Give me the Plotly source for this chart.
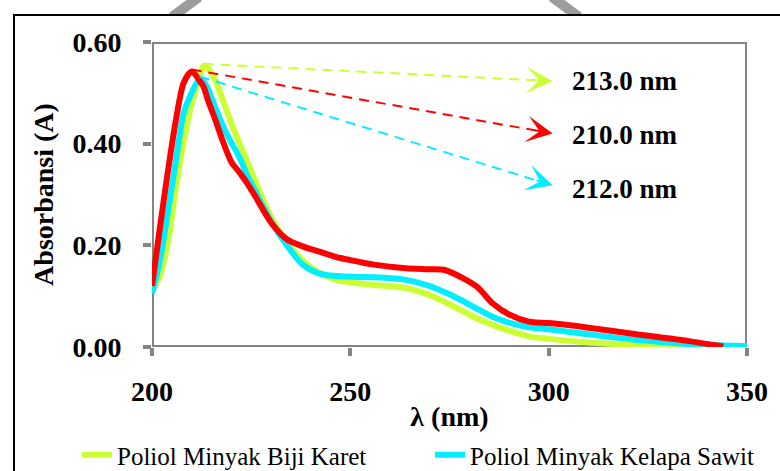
import plotly.graph_objects as go

# Wavelength grid (nm) shared by the three spectra
wavelength = [200, 202, 204, 206, 208, 210, 212, 213, 214, 216, 218, 220, 222, 224,
              226, 230, 234, 238, 242, 246, 250, 256, 264, 270, 274, 278, 282, 286,
              290, 295, 300, 310, 322, 335, 344, 350]

# Absorbance (A) of each polyol sample
biji_karet = [0.110, 0.140, 0.205, 0.312, 0.405, 0.478, 0.530, 0.553, 0.549, 0.524,
              0.483, 0.440, 0.402, 0.365, 0.327, 0.256, 0.207, 0.170, 0.147, 0.133,
              0.127, 0.122, 0.116, 0.102, 0.088, 0.072, 0.056, 0.043, 0.032, 0.021,
              0.016, 0.009, 0.004, 0.001, 0.000, 0.000]
kelapa_sawit = [0.105, 0.170, 0.265, 0.365, 0.460, 0.500, 0.528, 0.522, 0.510, 0.470,
                0.433, 0.402, 0.374, 0.338, 0.307, 0.248, 0.200, 0.162, 0.145, 0.140,
                0.138, 0.137, 0.132, 0.120, 0.107, 0.092, 0.075, 0.059, 0.048, 0.039,
                0.035, 0.025, 0.014, 0.006, 0.003, 0.002]
poliol_merah = [0.120, 0.235, 0.345, 0.445, 0.520, 0.542, 0.524, 0.512, 0.488, 0.446,
                0.402, 0.364, 0.344, 0.322, 0.297, 0.245, 0.212, 0.198, 0.188, 0.178,
                0.171, 0.162, 0.155, 0.153, 0.151, 0.137, 0.118, 0.085, 0.064, 0.050,
                0.047, 0.038, 0.025, 0.012, 0.001, None]

series_names = ["Poliol Minyak Biji Karet", "Poliol Minyak Kelapa Sawit", "Poliol 3"]
series_values = [biji_karet, kelapa_sawit, poliol_merah]
series_colors = ["#CCFF33", "#00EEFF", "#FF0000"]
series_in_legend = [True, True, False]

x_ticks = [200, 250, 300, 350]
y_ticks = [0.0, 0.2, 0.4, 0.6]

# Peak-marker arrows: tip height per series and label position (data units)
arrow_tip_x = 301.0
arrow_tip_y = [0.523, 0.318, 0.420]
label_x = 305.5
label_y = [0.523, 0.310, 0.418]

FONT = "Liberation Serif"
AXIS_GRAY = "#848484"

# Canvas geometry (pixels)
W, H = 780, 471
ML, MR, MT, MB = 152, 33, 42, 124
PW, PH = W - ML - MR, H - MT - MB


def px_to_paper_x(px):
    return (px - ML) / PW


def px_to_paper_y(py):
    return (H - MB - py) / PH


fig = go.Figure()

for name, vals, color, show in zip(series_names, series_values, series_colors, series_in_legend):
    fig.add_trace(go.Scatter(
        x=wavelength, y=vals, name=name, mode="lines",
        line=dict(color=color, width=6, shape="spline", smoothing=0.8),
        showlegend=show, connectgaps=False,
    ))

shapes = []
# two grey strokes of a round emblem showing above the page edge
for (xa, ya), (xb, yb) in [((199, -3), (172, 17)), ((552, -3), (579, 17))]:
    shapes.append(dict(type="line", xref="paper", yref="paper", layer="below",
                       x0=px_to_paper_x(xa), y0=px_to_paper_y(ya),
                       x1=px_to_paper_x(xb), y1=px_to_paper_y(yb),
                       line=dict(color="#9c9c9c", width=10)))
# black page frame (white inside)
shapes.append(dict(type="rect", xref="paper", yref="paper", layer="below",
                   x0=px_to_paper_x(14), x1=px_to_paper_x(800),
                   y0=px_to_paper_y(490), y1=px_to_paper_y(15),
                   fillcolor="white", line=dict(color="black", width=2)))
# gray plot frame on the axis limits
shapes.append(dict(type="rect", xref="x", yref="y", layer="below",
                   x0=x_ticks[0], x1=x_ticks[-1], y0=y_ticks[0], y1=y_ticks[-1],
                   line=dict(color=AXIS_GRAY, width=4)))

annotations = []
for vals, color, tip_y, lab_y in zip(series_values, series_colors, arrow_tip_y, label_y):
    clean = [(w, v) for w, v in zip(wavelength, vals) if v is not None]
    peak_w, peak_v = max(clean, key=lambda p: p[1])
    start_x, start_y = peak_w, peak_v + 0.004
    # dashed leader from the peak
    shapes.append(dict(type="line", xref="x", yref="y", layer="above",
                       x0=start_x, y0=start_y, x1=arrow_tip_x - 2.5,
                       y1=tip_y + (start_y - tip_y) * 2.5 / (arrow_tip_x - start_x),
                       line=dict(color=color, width=2, dash="10px,7px")))
    # arrow head
    frac = 0.05
    annotations.append(dict(
        x=arrow_tip_x, y=tip_y, xref="x", yref="y",
        ax=arrow_tip_x + (start_x - arrow_tip_x) * frac,
        ay=tip_y + (start_y - tip_y) * frac,
        axref="x", ayref="y", text="", showarrow=True,
        arrowhead=3, arrowsize=2.2, arrowwidth=2, arrowcolor=color, standoff=0,
    ))
    annotations.append(dict(
        x=label_x, y=lab_y, xref="x", yref="y", xanchor="left", yanchor="middle",
        text=f"{peak_w:.1f} nm", showarrow=False,
        font=dict(family=FONT, size=27, color="black", weight="bold"),
    ))

fig.update_layout(
    width=W, height=H,
    margin=dict(l=ML, r=MR, t=MT, b=MB, autoexpand=False),
    paper_bgcolor="white", plot_bgcolor="white",
    font=dict(family=FONT, color="black"),
    shapes=shapes, annotations=annotations,
    showlegend=True,
    legend=dict(
        orientation="h",
        x=px_to_paper_x(77), xanchor="left",
        y=px_to_paper_y(432), yanchor="top",
        bgcolor="rgba(0,0,0,0)", borderwidth=0,
        entrywidth=308, entrywidthmode="pixels",
        font=dict(family=FONT, size=25, color="black"),
        traceorder="normal",
    ),
    xaxis=dict(
        range=[x_ticks[0], x_ticks[-1]], tickvals=x_ticks,
        showgrid=False, zeroline=False, showline=False, automargin=False,
        ticks="outside", ticklen=8, tickwidth=4, tickcolor=AXIS_GRAY,
        tickfont=dict(family=FONT, size=28, color="black", weight="bold"),
        ticklabelstandoff=11,
        title=dict(text="λ (nm)", standoff=0,
                   font=dict(family=FONT, size=28, color="black", weight="bold")),
    ),
    yaxis=dict(
        range=[y_ticks[0], y_ticks[-1]], tickvals=y_ticks, tickformat=".2f",
        showgrid=False, zeroline=False, showline=False, automargin=False,
        ticks="outside", ticklen=8, tickwidth=4, tickcolor=AXIS_GRAY,
        tickfont=dict(family=FONT, size=28, color="black", weight="bold"),
        ticklabelstandoff=16,
        title=dict(text="Absorbansi (A)", standoff=10,
                   font=dict(family=FONT, size=28, color="black", weight="bold")),
    ),
)

fig.write_html("out.html")
